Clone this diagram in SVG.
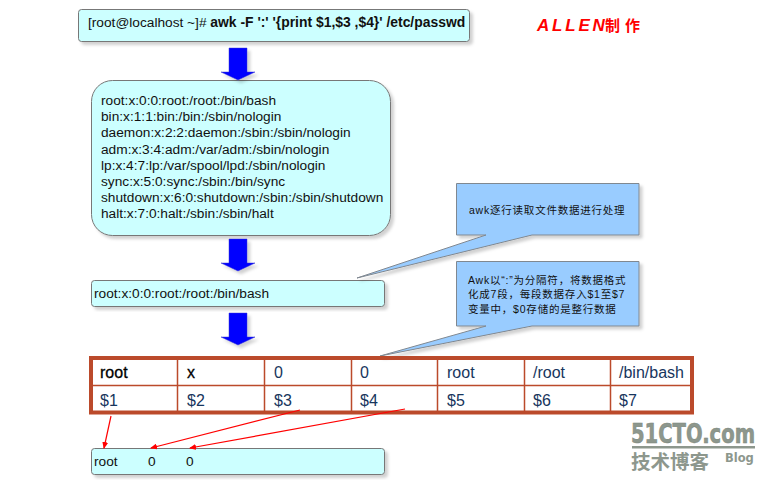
<svg xmlns="http://www.w3.org/2000/svg" width="769" height="485" viewBox="0 0 769 485">
<style>
text{font-family:"Liberation Sans","Noto Sans CJK SC",sans-serif;fill:#111}
.box{fill:#ccffff;stroke:#777;stroke-width:1}
.call{fill:#99ccff;stroke:#808890;stroke-width:1}
.t{font-size:13.7px}
.c{font-size:10.5px;letter-spacing:.78px}
.v{font-size:16px;fill:#17365d}
.b{font-size:16px;fill:#000;stroke:#000;stroke-width:.3}
.grid{stroke:#bb4a2b;fill:none}
.red{stroke:#f00;stroke-width:1.200;fill:none;marker-end:url(#ah)}
.wm{fill:#8d978d;font-weight:bold;font-family:"DejaVu Sans","Noto Sans CJK SC",sans-serif}
</style>
<defs>
<filter id="sh" x="-10%" y="-10%" width="125%" height="130%"><feDropShadow dx="3" dy="3" stdDeviation="1.600" flood-color="#000" flood-opacity=".18"/></filter>
<marker id="ah" markerWidth="7" markerHeight="6" refX="6" refY="3" orient="auto" markerUnits="userSpaceOnUse"><path d="M0 0L7 3L0 6z" fill="#f00"/></marker>
<path id="arrow" d="M229 0H247V24H255L238 32L221 24H229z" fill="#0000ff" stroke="#3a3ad0" stroke-width=".5" filter="url(#sh)"/>
</defs>
<g id="watermark">
<text class="wm" transform="translate(631 443) scale(.725 1)" font-size="27" style="stroke:#7d877d;stroke-width:.6">51CTO.com</text>
<rect x="632" y="446" width="123" height="2.500" fill="#8d978d"/>
<text class="wm" x="631" y="469" font-size="19.500">技术博客</text>
<text class="wm" x="725" y="462" font-size="11.500">Blog</text>
</g>
<g id="cmd"><rect class="box" x="78.500" y="9.500" width="391" height="32" rx="3" filter="url(#sh)"/>
<text class="t" x="88" y="27" xml:space="preserve">[root@localhost ~]# <tspan font-weight="bold" font-size="13.900">awk -F ':' '{print $1,$3 ,$4}' /etc/passwd</tspan></text></g>
<g id="title"><text x="537" y="31" font-size="17" font-weight="bold" font-style="italic" letter-spacing="2.800" style="fill:#f00">ALLEN</text>
<text x="605" y="31" font-size="15" font-weight="bold" letter-spacing="5" style="fill:#f00">制作</text></g>
<g id="passwd"><rect class="box" x="91.500" y="80.500" width="299" height="155" rx="21" filter="url(#sh)"/>
<text class="t" x="101" y="105">root:x:0:0:root:/root:/bin/bash</text>
<text class="t" x="101" y="121">bin:x:1:1:bin:/bin:/sbin/nologin</text>
<text class="t" x="101" y="137">daemon:x:2:2:daemon:/sbin:/sbin/nologin</text>
<text class="t" x="101" y="154">adm:x:3:4:adm:/var/adm:/sbin/nologin</text>
<text class="t" x="101" y="170">lp:x:4:7:lp:/var/spool/lpd:/sbin/nologin</text>
<text class="t" x="101" y="186">sync:x:5:0:sync:/sbin:/bin/sync</text>
<text class="t" x="101" y="202">shutdown:x:6:0:shutdown:/sbin:/sbin/shutdown</text>
<text class="t" x="101" y="218">halt:x:7:0:halt:/sbin:/sbin/halt</text></g>
<g id="line"><rect class="box" x="91.500" y="280.500" width="293" height="26" rx="3" filter="url(#sh)"/>
<text class="t" x="94" y="298">root:x:0:0:root:/root:/bin/bash</text></g>
<g id="callout1"><path class="call" d="M456.500 183.500H639V235H532L357 278L486 235H456.500z" filter="url(#sh)"/>
<text class="c" x="469" y="214">awk逐行读取文件数据进行处理</text></g>
<g id="callout2"><path class="call" d="M456.500 261.500H639V326H532L380 356L486 326H456.500z" filter="url(#sh)"/>
<text class="c" x="468" y="284">Awk以“:”为分隔符，将数据格式</text>
<text class="c" x="468" y="298">化成7段，每段数据存入$1至$7</text>
<text class="c" x="468" y="313">变量中，$0存储的是整行数据</text></g>
<g id="table">
<rect x="91" y="358" width="601" height="54.500" fill="#fff" class="grid" stroke-width="4"/>
<path class="grid" stroke-width="1.500" d="M91 385.500H692M177.500 358V412M264.500 358V412M351.500 358V412M437.500 358V412M524.500 358V412M610.500 358V412"/>
<text class="b" x="100" y="378">root</text><text class="b" x="187" y="378">x</text><text class="v" x="274" y="378">0</text><text class="v" x="360" y="378">0</text><text class="v" x="447" y="378">root</text><text class="v" x="533" y="378">/root</text><text class="v" x="619" y="378">/bin/bash</text>
<text class="v" x="100" y="406">$1</text><text class="v" x="187" y="406">$2</text><text class="v" x="274" y="406">$3</text><text class="v" x="360" y="406">$4</text><text class="v" x="447" y="406">$5</text><text class="v" x="533" y="406">$6</text><text class="v" x="619" y="406">$7</text>
</g>
<g id="result"><rect class="box" x="91.500" y="448.500" width="293" height="26" rx="3" filter="url(#sh)"/>
<text class="t" x="94" y="466">root</text><text class="t" x="148" y="466">0</text><text class="t" x="186" y="466">0</text></g>
<g id="connectors">
<use href="#arrow" y="48"/><use href="#arrow" y="239"/><use href="#arrow" y="313"/>
<path class="red" d="M111 416L104 448"/><path class="red" d="M300 410L151 448"/><path class="red" d="M405 409L190 448"/>
</g>
</svg>
